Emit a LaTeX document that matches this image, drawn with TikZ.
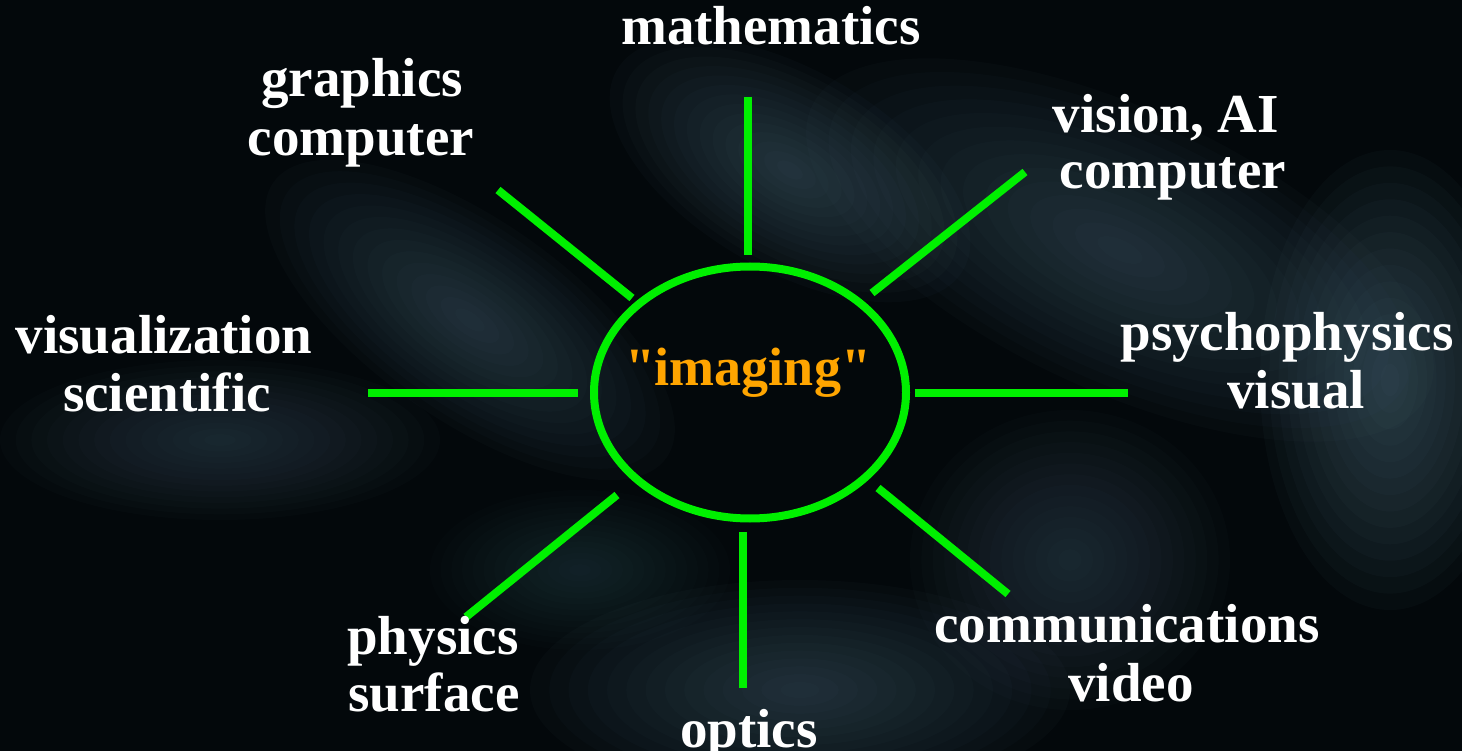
\documentclass[tikz,border=0pt]{standalone}
\usepackage{fontspec}
\setmainfont{Liberation Serif}
\newfontfamily\rawserif{Liberation Serif}[Ligatures=TeXOff]
\usetikzlibrary{shapes.geometric}
\definecolor{bgdark}{RGB}{3,8,11}
\definecolor{cloud}{RGB}{80,112,128}
\definecolor{spokegreen}{RGB}{0,240,0}
\definecolor{imgorange}{RGB}{255,165,0}
\tikzset{
  lbl/.style={anchor=base, inner sep=0pt, text=white, font=\fontsize{55}{57}\selectfont\bfseries},
  spoke/.style={draw=spokegreen, line width=8pt},
}
% soft cloud: x, y, rx, ry, angle, opacity per layer
\newcommand\cloudblob[6]{%
  \foreach \k in {1,...,14}{%
    \fill[cloud, fill opacity=#6, rotate around={#5:(#1,#2)}]
      (#1,#2) ellipse ({#3*\k/14} and {#4*\k/14});
  }%
}
\begin{document}
\begin{tikzpicture}[x=1pt,y=-1pt]
\useasboundingbox (0,0) rectangle (1462,751);
\fill[bgdark] (0,0) rectangle (1462,751);
% cloudy background
\cloudblob{790}{170}{200}{100}{-30}{0.045}
\cloudblob{1120}{250}{340}{140}{-25}{0.04}
\cloudblob{1390}{380}{130}{230}{0}{0.05}
\cloudblob{470}{320}{240}{100}{-35}{0.04}
\cloudblob{220}{440}{220}{80}{0}{0.03}
\cloudblob{800}{690}{270}{110}{0}{0.04}
\cloudblob{1070}{560}{160}{150}{0}{0.03}
\cloudblob{580}{570}{150}{80}{0}{0.025}

% central ellipse
\node[draw=spokegreen, line width=8pt, ellipse, minimum width=312pt, minimum height=252pt, inner sep=0pt] (c) at (750,392.5) {};
\node[anchor=base, inner sep=0pt, text=imgorange, font=\rawserif\fontsize{54}{56}\selectfont\bfseries] (img) at (748,385) {"imaging"};

% spokes
\coordinate (tA) at (748,97);   \coordinate (tB) at (748,255);
\coordinate (ulA) at (498,190); \coordinate (ulB) at (632,298);
\coordinate (urA) at (1025,172);\coordinate (urB) at (872,293);
\coordinate (lA) at (368,393);  \coordinate (lB) at (578,393);
\coordinate (rA) at (1128,393); \coordinate (rB) at (915,393);
\coordinate (llA) at (466,617); \coordinate (llB) at (617,495);
\coordinate (bA) at (743,688);  \coordinate (bB) at (743,532);
\coordinate (lrA) at (1008,594);\coordinate (lrB) at (878,488);
\foreach \s in {t,ul,ur,l,r,ll,b,lr} \draw[spoke] (\s A) -- (\s B);

% labels
\node[lbl] (math) at (771,45) {mathematics};
\node[lbl] (gfx1) at (362,97) {graphics};
\node[lbl] (gfx2) at (361,156) {computer};
\node[lbl] (vis1) at (1166,133) {vision, AI};
\node[lbl] (vis2) at (1173,189) {computer};
\node[lbl] (sci1) at (164,353) {visualization};
\node[lbl] (sci2) at (167,411) {scientific};
\node[lbl] (psy1) at (1287,350) {psychophysics};
\node[lbl] (psy2) at (1296,408) {visual};
\node[lbl] (phy1) at (433,654) {physics};
\node[lbl] (phy2) at (434,711) {surface};
\node[lbl] (opt) at (749,747) {optics};
\node[lbl] (com1) at (1127,642) {communications};
\node[lbl] (com2) at (1131,701) {video};
\end{tikzpicture}
\end{document}
